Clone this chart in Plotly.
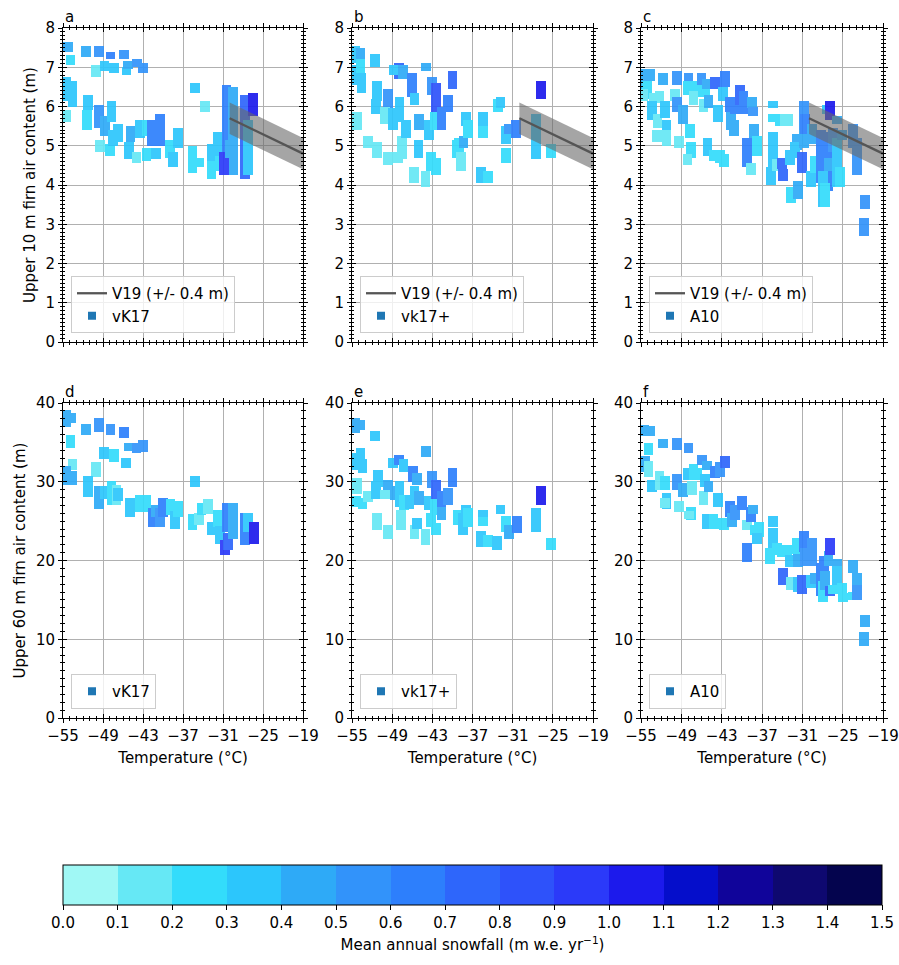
import plotly.graph_objects as go

# ---------------- data ----------------
# temperature (deg C), FAC low / high (m), mean annual snowfall (m w.e./yr)
a_T = [-54.3, -53.9, -51.6, -49.6, -50.1, -48.8, -47.9, -47.4, -45.9, -45.5, -45.3, -43.9, -43.0,
       -54.5, -53.6, -54.5, -51.25, -51.4, -49.6, -48.75, -47.75, -49.5, -48.0,
       -47.5, -46.75, -45.1, -44.9, -44.0, -43.5, -42.5, -42.5, -41.65, -41.1,
       -40.5, -39.0, -37.75, -38.5, -35.6, -35.25, -34.6, -33.75, -32.75, -32.75,
       -31.75, -31.5, -30.5, -29.5, -30.9, -30.0, -27.75, -27.25, -26.5]
a_lo = [7.45, 7.1, 7.3, 7.3, 6.8, 6.95, 7.25, 6.9, 7.25, 6.85, 7.0, 7.05, 6.9,
        6.2, 6.05, 5.65, 5.95, 5.45, 5.5, 5.3, 5.65, 4.9, 4.8,
        5.05, 5.15, 4.7, 5.15, 4.6, 5.25, 4.65, 5.3, 5.05, 4.7,
        5.05, 4.75, 5.0, 4.5, 4.35, 6.4, 4.5, 5.9, 4.65, 4.2,
        4.8, 4.4, 4.3, 4.3, 4.3, 4.75, 4.2, 4.3, 5.8]
a_hi = [7.6, 7.25, 7.5, 7.5, 7.0, 7.1, 7.35, 7.05, 7.4, 6.95, 7.1, 7.15, 7.05,
        6.7, 6.6, 5.85, 6.25, 5.85, 6.0, 5.7, 6.1, 5.1, 5.0,
        5.35, 5.5, 5.05, 5.45, 4.8, 5.6, 4.9, 5.6, 5.6, 4.9,
        5.75, 5.1, 5.4, 4.8, 4.95, 6.55, 4.65, 6.1, 5.0, 4.55,
        5.3, 4.7, 6.5, 6.45, 4.8, 5.1, 6.25, 5.6, 6.3]
a_s = [0.45, 0.25, 0.45, 0.55, 0.15, 0.35, 0.65, 0.35, 0.55, 0.35, 0.45, 0.55, 0.55,
       0.35, 0.35, 0.15, 0.35, 0.25, 0.55, 0.45, 0.35, 0.15, 0.25,
       0.35, 0.35, 0.35, 0.45, 0.15, 0.35, 0.25, 0.25, 0.65, 0.35,
       0.65, 0.25, 0.35, 0.35, 0.25, 0.35, 0.25, 0.15, 0.35, 0.25,
       0.35, 0.25, 0.65, 0.45, 0.95, 0.45, 0.75, 0.35, 1.05]

b_T = [-54.6, -53.75, -54.45, -53.75, -53.6, -54.25, -52.6, -51.6, -51.25, -51.45,
       -51.25, -49.6, -49.6, -50.1, -48.9, -48.0, -48.8, -47.4, -47.9, -48.1,
       -47.5, -46.9, -46.0, -45.65, -45.0, -45.05, -45.75, -44.0, -43.9, -43.5,
       -43.15, -43.05, -42.5, -42.65, -42.5, -41.65, -40.7, -40.0, -39.3, -39.0,
       -38.7, -38.35, -38.0, -37.7, -35.7, -34.7, -35.45, -35.45, -33.2, -32.8,
       -32.0, -32.0, -31.55, -30.5, -27.5, -26.75, -25.25]
b_lo = [7.15, 7.2, 6.6, 6.9, 6.4, 5.45, 5.0, 7.05, 6.2, 5.85,
        4.75, 6.0, 4.55, 5.6, 5.45, 6.75, 6.85, 6.75, 5.65, 4.6,
        4.7, 5.25, 6.3, 6.1, 5.45, 4.75, 4.1, 4.0, 6.95, 5.2,
        4.4, 6.35, 5.85, 5.45, 4.3, 5.45, 5.9, 6.5, 4.75, 4.85,
        4.4, 5.0, 5.55, 5.25, 4.1, 4.1, 5.5, 5.25, 5.9, 6.0,
        5.1, 4.6, 5.35, 5.25, 4.7, 6.25, 4.75]
b_hi = [7.5, 7.45, 7.0, 7.15, 6.8, 5.8, 5.2, 7.3, 6.6, 6.15,
        5.05, 6.4, 4.8, 5.95, 5.9, 7.05, 7.0, 7.0, 6.2, 4.8,
        5.2, 5.6, 6.8, 6.3, 5.75, 5.1, 4.4, 4.3, 7.05, 5.6,
        4.8, 6.7, 6.55, 5.8, 4.65, 5.95, 6.25, 6.85, 5.1, 5.15,
        4.8, 5.2, 5.8, 5.6, 4.4, 4.3, 5.8, 5.45, 6.15, 6.2,
        5.45, 4.9, 5.5, 5.6, 5.75, 6.6, 5.0]
b_s = [0.35, 0.45, 0.35, 0.25, 0.35, 0.15, 0.15, 0.35, 0.35, 0.35,
       0.15, 0.55, 0.15, 0.15, 0.35, 0.75, 0.35, 0.45, 0.35, 0.15,
       0.15, 0.35, 0.65, 0.35, 0.45, 0.35, 0.15, 0.15, 0.45, 0.35,
       0.25, 0.55, 0.85, 0.25, 0.25, 0.65, 0.65, 0.75, 0.25, 0.25,
       0.15, 0.45, 0.35, 0.25, 0.35, 0.25, 0.35, 0.25, 0.25, 0.35,
       0.35, 0.25, 0.55, 0.65, 0.35, 1.05, 0.25]

c_T = [-54.4, -53.65, -54.15, -54.65, -53.15, -52.25, -53.4, -52.55, -52.65, -51.4,
       -51.2, -51.2, -51.7, -49.6, -49.95, -49.6, -49.4, -48.7, -47.95, -47.7,
       -47.6, -48.1, -48.1, -47.2, -46.2, -45.45, -47.2, -46.0, -45.7, -45.2,
       -44.95, -45.1, -44.2, -43.5, -43.3, -42.6, -44.0, -42.5, -42.75, -41.75,
       -41.65, -41.15, -41.0, -40.25, -39.75, -39.25, -38.5, -38.35, -38.2, -37.8,
       -38.65, -35.4, -35.4, -35.4, -35.7, -35.4, -34.8, -34.05, -33.9, -34.4,
       -33.55, -33.05, -32.8, -32.7, -31.7, -31.8, -32.05, -31.05, -30.7, -30.7,
       -30.6, -29.6, -29.7, -29.1, -28.25, -27.1, -27.1, -27.95, -27.6, -27.35,
       -26.85, -26.4, -25.8, -25.8, -25.1, -25.4, -23.45, -22.85, -21.7, -21.85]
c_lo = [6.5, 6.7, 6.25, 6.2, 6.2, 6.15, 5.7, 5.5, 5.15, 5.75,
        5.4, 5.05, 6.6, 6.6, 6.2, 5.9, 5.0, 5.6, 6.65, 5.25,
        4.75, 4.55, 6.35, 6.3, 6.3, 6.35, 6.1, 6.6, 5.9, 6.5,
        6.0, 4.8, 4.65, 5.65, 4.6, 4.5, 6.5, 6.55, 6.2, 5.9,
        5.45, 5.3, 5.85, 6.1, 5.85, 4.5, 6.0, 5.8, 5.25, 4.8,
        4.3, 6.0, 5.65, 4.75, 4.05, 4.4, 4.4, 4.45, 4.15, 5.55,
        5.55, 5.55, 4.55, 3.6, 3.7, 4.95, 4.75, 4.35, 5.3, 5.0,
        5.35, 5.1, 4.0, 4.35, 4.1, 3.9, 4.4, 3.5, 3.5, 5.85,
        5.7, 4.9, 4.0, 5.6, 5.2, 4.0, 5.0, 4.3, 3.45, 2.75]
c_hi = [6.9, 6.9, 6.6, 6.4, 6.3, 6.35, 6.1, 5.75, 5.35, 6.1,
        5.6, 5.35, 6.8, 6.85, 6.4, 6.2, 5.2, 6.0, 6.8, 5.5,
        5.05, 4.75, 6.6, 6.6, 6.55, 6.5, 6.35, 6.8, 6.15, 6.65,
        6.25, 5.15, 4.85, 6.0, 4.85, 4.75, 6.7, 6.85, 6.45, 6.2,
        5.8, 5.6, 6.2, 6.5, 6.35, 5.15, 6.2, 5.95, 5.5, 5.2,
        4.5, 6.1, 5.75, 5.3, 4.4, 4.7, 4.6, 4.65, 4.35, 5.75,
        5.75, 5.75, 4.85, 3.9, 4.05, 5.25, 5.05, 4.8, 6.1, 5.35,
        5.75, 5.5, 4.3, 4.7, 5.35, 5.3, 4.65, 4.3, 4.0, 6.0,
        6.1, 5.4, 5.15, 5.7, 5.35, 4.4, 5.5, 5.15, 3.7, 3.1]
c_s = [0.45, 0.45, 0.25, 0.15, 0.15, 0.15, 0.35, 0.15, 0.15, 0.35,
       0.35, 0.15, 0.45, 0.55, 0.15, 0.55, 0.15, 0.45, 0.55, 0.25,
       0.25, 0.15, 0.25, 0.25, 0.25, 0.25, 0.15, 0.55, 0.15, 0.45,
       0.45, 0.35, 0.25, 0.35, 0.25, 0.25, 0.75, 0.65, 0.35, 0.65,
       0.45, 0.45, 0.65, 0.75, 0.65, 0.65, 0.45, 0.55, 0.45, 0.25,
       0.15, 0.35, 0.25, 0.35, 0.35, 0.35, 0.15, 0.75, 0.75, 0.25,
       0.15, 0.15, 0.35, 0.25, 0.45, 0.45, 0.35, 0.75, 0.55, 0.45,
       0.65, 0.45, 0.35, 0.25, 0.65, 0.65, 0.45, 0.35, 0.25, 0.35,
       1.05, 0.55, 0.35, 0.45, 0.45, 0.25, 0.55, 0.55, 0.55, 0.55]

d_T = [-54.6, -53.75, -53.9, -53.6, -54.5, -53.6, -51.6, -49.65, -50.1, -51.25,
       -49.6, -48.75, -48.9, -47.4, -47.75, -47.0, -46.75, -47.9, -45.9, -45.6,
       -45.2, -45.0, -44.0, -43.0, -43.5, -42.5, -41.6, -41.1, -40.5, -40.0,
       -38.9, -38.25, -37.75, -35.6, -34.6, -35.25, -34.25, -33.25, -32.75, -31.75,
       -31.5, -30.75, -30.25, -30.5, -29.5, -27.75, -27.25, -26.4]
d_lo = [37.25, 37.7, 34.5, 31.7, 29.8, 29.8, 36.2, 36.6, 30.9, 28.3,
        26.85, 28.1, 33.2, 32.8, 27.3, 27.3, 27.8, 36.2, 35.85, 32.0,
        34.2, 25.8, 33.85, 34.05, 26.4, 26.4, 24.5, 25.8, 24.5, 25.8,
        26.0, 24.3, 25.8, 24.1, 24.7, 29.6, 26.0, 26.2, 23.45, 24.5,
        22.4, 20.9, 21.55, 23.9, 23.0, 22.2, 23.9, 22.4]
d_hi = [38.9, 38.5, 35.75, 32.6, 31.7, 31.1, 37.1, 37.9, 32.2, 30.45,
        29.2, 29.2, 34.1, 33.85, 29.8, 29.4, 29.0, 37.05, 36.7, 32.8,
        34.7, 27.7, 34.7, 35.0, 28.1, 28.1, 26.4, 26.85, 26.4, 27.7,
        27.5, 26.0, 27.3, 25.6, 25.8, 30.45, 27.1, 27.5, 24.7, 26.2,
        24.1, 22.4, 23.25, 27.05, 27.05, 25.8, 25.8, 24.7]
d_s = [0.45, 0.45, 0.25, 0.15, 0.45, 0.45, 0.45, 0.55, 0.15, 0.35,
       0.45, 0.35, 0.35, 0.25, 0.25, 0.15, 0.35, 0.55, 0.65, 0.35,
       0.45, 0.35, 0.55, 0.55, 0.25, 0.25, 0.65, 0.45, 0.55, 0.65,
       0.25, 0.35, 0.25, 0.25, 0.15, 0.35, 0.25, 0.15, 0.35, 0.25,
       0.35, 0.95, 0.75, 0.65, 0.45, 0.65, 0.35, 1.05]

e_T = [-54.6, -53.85, -54.6, -53.75, -53.45, -54.25, -54.45, -53.45, -52.6, -51.6,
       -51.1, -51.45, -51.25, -49.6, -50.1, -49.6, -48.9, -48.0, -47.3, -48.6,
       -47.9, -47.65, -47.2, -46.4, -45.9, -45.3, -45.65, -45.0, -45.65, -45.3,
       -44.0, -43.9, -43.5, -43.15, -43.05, -42.5, -42.65, -42.5, -41.65, -41.65,
       -40.7, -40.0, -39.15, -38.4, -38.0, -37.7, -35.45, -35.45, -35.7, -34.7,
       -33.3, -32.8, -32.0, -31.55, -30.4, -27.5, -26.75, -25.25]
e_lo = [36.4, 36.8, 31.7, 33.0, 31.3, 28.75, 27.05, 26.85, 27.7, 35.4,
        29.6, 28.1, 24.1, 28.55, 28.1, 23.0, 31.95, 32.4, 31.5, 27.9,
        27.05, 24.1, 26.6, 26.85, 30.2, 29.8, 27.5, 27.3, 23.0, 24.3,
        22.2, 33.4, 26.6, 24.5, 29.4, 28.1, 26.0, 23.45, 27.05, 25.4,
        27.3, 29.6, 24.7, 23.45, 25.8, 24.5, 25.15, 24.6, 22.0, 22.0,
        21.55, 26.2, 23.9, 23.0, 23.7, 23.9, 27.3, 21.55]
e_hi = [37.9, 37.65, 33.4, 34.05, 32.6, 30.2, 27.9, 27.7, 28.55, 36.25,
        31.3, 29.8, 25.8, 30.0, 28.75, 24.3, 32.8, 33.2, 32.6, 29.2,
        29.8, 26.2, 28.1, 28.1, 31.7, 30.85, 29.2, 28.55, 24.3, 25.15,
        23.7, 34.3, 27.9, 25.8, 31.1, 30.0, 27.5, 24.5, 28.55, 26.6,
        29.0, 31.5, 26.2, 25.8, 26.85, 26.4, 26.2, 25.3, 23.45, 23.0,
        22.8, 26.85, 25.4, 24.3, 25.4, 26.4, 29.2, 22.6]
e_s = [0.45, 0.45, 0.35, 0.35, 0.35, 0.15, 0.25, 0.25, 0.15, 0.35,
       0.35, 0.35, 0.15, 0.45, 0.15, 0.15, 0.35, 0.65, 0.35, 0.45,
       0.35, 0.15, 0.25, 0.35, 0.65, 0.45, 0.35, 0.45, 0.15, 0.35,
       0.15, 0.45, 0.35, 0.25, 0.55, 0.75, 0.25, 0.25, 0.65, 0.45,
       0.55, 0.65, 0.25, 0.35, 0.35, 0.25, 0.35, 0.25, 0.35, 0.25,
       0.35, 0.35, 0.25, 0.45, 0.65, 0.35, 1.05, 0.25]

f_T = [-54.5, -53.65, -53.9, -54.4, -53.9, -53.4, -52.25, -51.7, -51.4, -51.2,
       -51.45, -49.6, -49.6, -49.4, -48.8, -47.95, -48.1, -47.6, -47.9, -47.2,
       -46.7, -47.45, -45.7, -45.95, -45.2, -45.45, -44.95, -45.2, -44.2, -43.5,
       -43.3, -42.6, -44.0, -43.3, -42.5, -41.75, -41.5, -41.0, -40.0, -39.25,
       -39.25, -38.65, -38.35, -38.0, -37.5, -37.75, -35.4, -35.4, -35.8, -34.8,
       -34.05, -33.9, -33.3, -32.8, -32.7, -31.7, -31.8, -31.7, -31.05, -30.7,
       -30.6, -29.6, -29.7, -29.1, -28.25, -27.95, -27.75, -27.6, -27.1, -26.85,
       -26.85, -25.8, -25.8, -25.1, -26.4, -24.95, -23.45, -23.45, -22.85, -22.85,
       -21.7, -21.85]
f_lo = [36.0, 36.0, 33.65, 31.5, 30.9, 29.0, 29.2, 34.5, 29.2, 26.85,
        26.9, 34.3, 29.2, 26.4, 28.3, 33.85, 30.45, 25.4, 25.5, 30.45,
        30.45, 28.55, 27.3, 32.4, 31.7, 29.6, 29.0, 24.3, 24.3, 27.05,
        24.3, 24.1, 30.7, 30.9, 31.95, 25.8, 24.5, 25.4, 26.6, 20.0,
        24.1, 25.15, 26.2, 23.45, 23.25, 22.4, 24.5, 21.75, 19.85, 20.9,
        20.7, 17.1, 20.7, 19.4, 16.45, 19.4, 21.1, 16.2, 16.0, 21.3,
        19.6, 19.6, 16.7, 17.3, 15.8, 15.0, 18.4, 16.45, 19.6, 20.9,
        15.8, 19.4, 16.2, 16.0, 16.0, 15.0, 18.6, 15.2, 16.2, 15.2,
        11.8, 9.45]
f_hi = [37.0, 36.8, 34.7, 33.0, 32.4, 30.0, 31.1, 35.2, 30.45, 28.3,
        27.7, 35.3, 30.7, 27.3, 29.6, 34.7, 31.5, 26.6, 26.0, 31.95,
        31.5, 29.8, 28.55, 33.2, 32.4, 30.7, 29.8, 25.6, 25.6, 28.3,
        25.15, 25.15, 31.7, 32.2, 33.0, 27.3, 25.8, 26.85, 27.9, 22.0,
        24.9, 26.6, 26.85, 24.3, 24.7, 23.25, 25.4, 23.9, 21.3, 22.0,
        21.75, 18.8, 21.75, 20.5, 17.7, 21.1, 22.6, 17.7, 17.9, 23.45,
        21.3, 22.6, 17.9, 18.2, 19.4, 17.1, 20.3, 18.4, 20.9, 22.6,
        16.5, 19.9, 19.0, 16.9, 16.7, 15.6, 19.85, 15.8, 18.15, 16.7,
        12.85, 10.7]
f_s = [0.45, 0.45, 0.25, 0.45, 0.15, 0.35, 0.15, 0.45, 0.25, 0.35,
       0.15, 0.55, 0.55, 0.15, 0.45, 0.55, 0.35, 0.25, 0.15, 0.25,
       0.25, 0.15, 0.15, 0.55, 0.45, 0.35, 0.45, 0.35, 0.25, 0.35,
       0.25, 0.25, 0.65, 0.55, 0.75, 0.65, 0.45, 0.55, 0.65, 0.65,
       0.15, 0.65, 0.45, 0.25, 0.25, 0.35, 0.35, 0.35, 0.25, 0.25,
       0.25, 0.75, 0.25, 0.35, 0.15, 0.45, 0.25, 0.35, 0.75, 0.65,
       0.55, 0.55, 0.35, 0.45, 0.65, 0.25, 0.65, 0.45, 0.45, 0.95,
       0.75, 0.45, 0.35, 0.25, 0.25, 0.25, 0.45, 0.25, 0.45, 0.55,
       0.45, 0.45]

# V19 parameterisation (upper 10 m FAC) with +/- 0.4 m
v19_T = [-30.0, -19.0]
v19_fac = [5.7, 4.8]
v19_err = 0.4

x_ticks = [-55, -49, -43, -37, -31, -25, -19]
top_yticks = [0, 1, 2, 3, 4, 5, 6, 7, 8]
bot_yticks = [0, 10, 20, 30, 40]
cbar_ticks = [round(0.1 * k, 1) for k in range(16)]
snow_colors = ["#a0f8f5", "#66e8f5", "#33dcfb", "#2cc6fc", "#2eaaf7", "#3293fa",
               "#2d7ffc", "#2e66fb", "#2e52fa", "#2b3af9", "#1c1aec", "#050ecb",
               "#10049a", "#0e0870", "#04044e"]
model_names = ["vK17", "vk17+", "A10", "vK17", "vk17+", "A10"]
letters = ["a", "b", "c", "d", "e", "f"]

# ---------------- figure ----------------
W, H = 899, 965
FONT = "DejaVu Sans"
FS = 15
xdoms = [(63 / W, 303 / W), (352 / W, 593 / W), (641 / W, 883 / W)]
ydoms = [(1 - 342 / H, 1 - 28 / H), (1 - 718 / H, 1 - 403 / H)]
legend_x = [71 / W, 360 / W, 649 / W]
legend_yb = [1 - 333 / H, 1 - 709 / H]
marker_pad = [0.05, 0.25]   # visual half-marker padding (data units) per row

panels = [
    (a_T, a_lo, a_hi, a_s), (b_T, b_lo, b_hi, b_s), (c_T, c_lo, c_hi, c_s),
    (d_T, d_lo, d_hi, d_s), (e_T, e_lo, e_hi, e_s), (f_T, f_lo, f_hi, f_s),
]

fig = go.Figure()
layout = {}
annotations = []

n = len(snow_colors)
colorscale = []
for k, c in enumerate(snow_colors):
    colorscale.append([k / n, c])
    colorscale.append([(k + 1) / n, c])

for i, (T, lo, hi, s) in enumerate(panels, start=1):
    row, col = (i - 1) // 3, (i - 1) % 3
    xs = "x" if i == 1 else f"x{i}"
    ys = "y" if i == 1 else f"y{i}"
    legname = "legend" if i == 1 else f"legend{i}"
    top = row == 0
    yr = [0, 8] if top else [0, 40]
    ydt = 1 if top else 10
    yminor = 0.1 if top else 1
    pad = marker_pad[row]

    fig.add_trace(go.Bar(
        x=T, base=[l - pad for l in lo], y=[h - l + 2 * pad for h, l in zip(hi, lo)],
        width=1.45,
        marker=dict(color=s, coloraxis="coloraxis", line=dict(width=0)),
        opacity=0.92, xaxis=xs, yaxis=ys, showlegend=False, hoverinfo="skip"))

    if top:
        band_x = v19_T + v19_T[::-1]
        band_y = [f + v19_err for f in v19_fac] + [f - v19_err for f in v19_fac[::-1]]
        fig.add_trace(go.Scatter(
            x=band_x, y=band_y, fill="toself", mode="lines", line=dict(width=0),
            fillcolor="rgba(105,105,105,0.6)", xaxis=xs, yaxis=ys,
            showlegend=False, hoverinfo="skip"))
        fig.add_trace(go.Scatter(
            x=v19_T, y=v19_fac, mode="lines", line=dict(color="#555555", width=2.3),
            name="V19 (+/- 0.4 m)", xaxis=xs, yaxis=ys, legend=legname, hoverinfo="skip"))
    fig.add_trace(go.Scatter(
        x=[None], y=[None], mode="markers",
        marker=dict(symbol="square", size=8, color="#1f77b4"),
        name=model_names[i - 1], xaxis=xs, yaxis=ys, legend=legname))

    common_x = dict(range=[-55, -19], tick0=-55, dtick=6, tickmode="linear",
                    zeroline=False, showline=True,
                    linecolor="black", linewidth=1, mirror="ticks",
                    tickcolor="black", tickwidth=1)
    common_y = dict(range=yr, tick0=0, dtick=ydt, tickmode="linear",
                    zeroline=False, showline=True,
                    linecolor="black", linewidth=1, mirror="ticks",
                    tickcolor="black", tickwidth=1)

    xa = dict(common_x, domain=list(xdoms[col]), anchor=ys, ticks="outside", ticklen=4,
              showgrid=True, gridcolor="#b0b0b0", gridwidth=1.3,
              minor=dict(dtick=1, tick0=-55, ticks="outside", ticklen=2, tickcolor="black",
                         showgrid=False),
              showticklabels=not top, tickfont=dict(size=FS, color="black"))
    if not top:
        xa["title"] = dict(text="Temperature (°C)", font=dict(size=FS, color="black"), standoff=8)
    ya = dict(common_y, domain=list(ydoms[row]), anchor=xs, ticks="outside", ticklen=4,
              showgrid=True, gridcolor="#b0b0b0", gridwidth=1.3,
              minor=dict(dtick=yminor, tick0=0, ticks="outside", ticklen=2, tickcolor="black",
                         showgrid=False),
              showticklabels=True, tickfont=dict(size=FS, color="black"))
    if col == 0:
        ya["title"] = dict(text="Upper 10 m firn air content (m)" if top else
                           "Upper 60 m firn air content (m)",
                           font=dict(size=FS, color="black"), standoff=6)
    layout["xaxis" if i == 1 else f"xaxis{i}"] = xa
    layout["yaxis" if i == 1 else f"yaxis{i}"] = ya

    # overlay axes giving the inward half of the "in-out" ticks
    j = i + 6
    xo = dict(common_x, overlaying=xs, anchor=f"y{j}", ticks="inside", ticklen=4,
              showgrid=False,
              minor=dict(dtick=1, tick0=-55, ticks="inside", ticklen=2, tickcolor="black"),
              showticklabels=False)
    yo = dict(common_y, overlaying=ys, anchor=f"x{j}", ticks="inside", ticklen=4,
              showgrid=False,
              minor=dict(dtick=yminor, tick0=0, ticks="inside", ticklen=2, tickcolor="black"),
              showticklabels=False)
    layout[f"xaxis{j}"] = xo
    layout[f"yaxis{j}"] = yo
    fig.add_trace(go.Scatter(x=[None], y=[None], xaxis=f"x{j}", yaxis=f"y{j}",
                             showlegend=False, hoverinfo="skip"))

    annotations.append(dict(text=letters[i - 1], xref=f"{xs} domain", yref=f"{ys} domain",
                            x=0.0, y=1.0, xanchor="left", yanchor="bottom", yshift=0,
                            showarrow=False, font=dict(size=FS, color="black")))

    layout[legname] = dict(x=legend_x[col], y=legend_yb[row], xanchor="left", yanchor="bottom",
                           bgcolor="rgba(255,255,255,0.8)", bordercolor="#cccccc",
                           borderwidth=1, font=dict(size=FS, color="black"),
                           traceorder="normal", tracegroupgap=0)

fig.update_layout(**layout)
fig.update_layout(
    width=W, height=H,
    margin=dict(l=0, r=0, t=0, b=0, autoexpand=False),
    paper_bgcolor="white", plot_bgcolor="white",
    font=dict(family=FONT, size=FS, color="black"),
    barmode="overlay", bargap=0,
    annotations=annotations,
    coloraxis=dict(
        cmin=0, cmax=1.5, colorscale=colorscale,
        colorbar=dict(
            orientation="h", x=63 / W, xanchor="left", y=1 - 865 / H, yanchor="top",
            len=819 / W, lenmode="fraction", thickness=40, thicknessmode="pixels",
            xpad=0, ypad=0, outlinecolor="black", outlinewidth=1,
            tickmode="array", tickvals=cbar_ticks, ticktext=[f"{v:.1f}" for v in cbar_ticks],
            ticks="outside", ticklen=5, tickcolor="black", tickfont=dict(size=FS),
            title=dict(text="Mean annual snowfall (m w.e. yr<sup>−1</sup>)", side="bottom",
                       font=dict(size=FS)),
        ),
    ),
)

fig.write_html("out.html", config={"displayModeBar": False},
               post_script="document.body.style.margin='0px';")
